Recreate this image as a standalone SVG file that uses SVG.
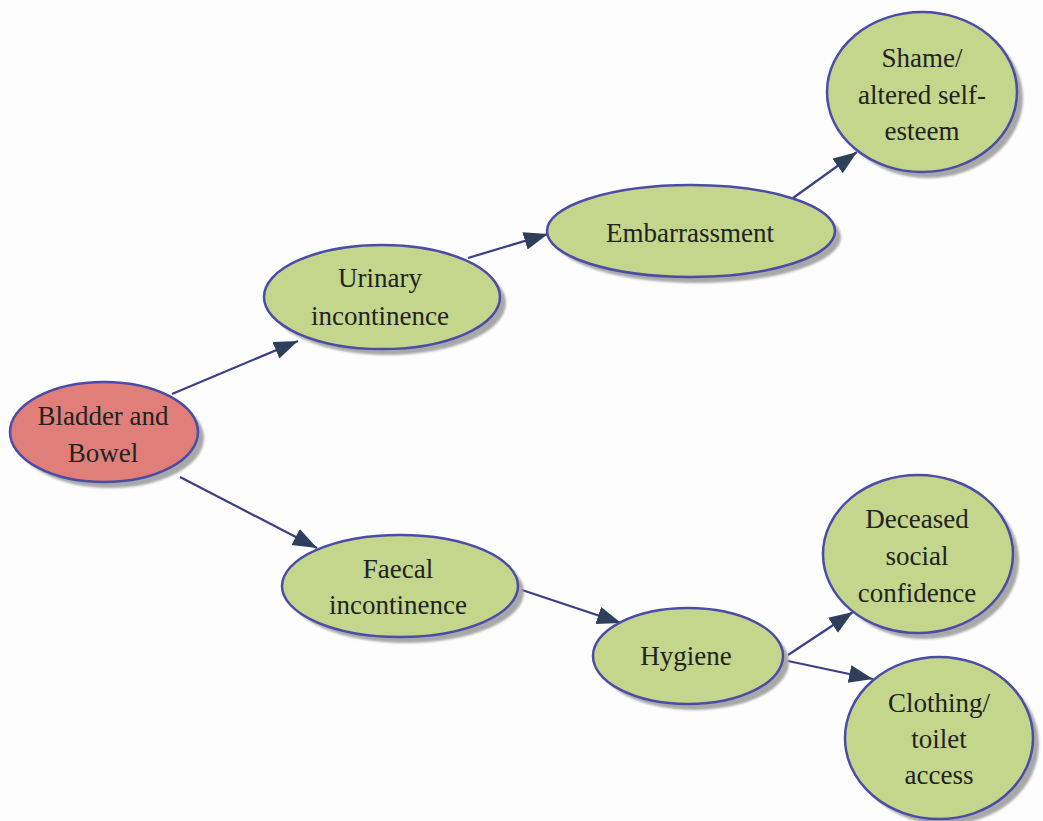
<svg xmlns="http://www.w3.org/2000/svg" width="1043" height="821" viewBox="0 0 1043 821">
  <style>
    .shadow { fill: #9a9a9a; opacity: 0.85; }
    .node { stroke: #4b4ca6; stroke-width: 2.5; }
    .green { fill: #c4d68c; }
    .red { fill: #e07f79; }
    .label { font-size: 27px; fill: #222222; text-anchor: middle; }
    .edge { stroke: #3c3f86; stroke-width: 2.2; fill: none; marker-end: url(#head); }
  </style>
  <defs>
    <marker id="head" markerUnits="userSpaceOnUse" markerWidth="26" markerHeight="20" refX="24" refY="9" orient="auto">
      <path d="M0,0 L24,9 L0,18 Z" fill="#2e3f5c"/>
    </marker>
    <filter id="soft" x="-10%" y="-10%" width="120%" height="120%">
      <feGaussianBlur stdDeviation="1.2"/>
    </filter>
  </defs>

  <rect width="1043" height="821" fill="#fdfdfd"/>

  <!-- connectors -->
  <g id="connectors">
    <line class="edge" x1="172" y1="394" x2="298" y2="341"/>
    <line class="edge" x1="180" y1="477" x2="317" y2="548"/>
    <line class="edge" x1="468" y1="258" x2="548" y2="234"/>
    <line class="edge" x1="793" y1="198" x2="857" y2="152"/>
    <line class="edge" x1="522" y1="590" x2="621" y2="623"/>
    <line class="edge" x1="788" y1="655" x2="853" y2="612"/>
    <line class="edge" x1="788" y1="661" x2="873" y2="679"/>
  </g>

  <!-- nodes -->
  <g font-family="'Liberation Serif', 'Times New Roman', serif">
  <g id="bladder-bowel">
    <ellipse class="shadow" filter="url(#soft)" cx="110" cy="438" rx="94" ry="50"/>
    <ellipse class="node red" cx="104" cy="432" rx="94" ry="50"/>
    <text class="label" x="103" y="425">Bladder and</text>
    <text class="label" x="103" y="462">Bowel</text>
  </g>

  <g id="urinary-incontinence">
    <ellipse class="shadow" filter="url(#soft)" cx="388" cy="303" rx="118" ry="52"/>
    <ellipse class="node green" cx="382" cy="297" rx="118" ry="52"/>
    <text class="label" x="380" y="287">Urinary</text>
    <text class="label" x="380" y="325">incontinence</text>
  </g>

  <g id="embarrassment">
    <ellipse class="shadow" filter="url(#soft)" cx="697" cy="237" rx="144" ry="46"/>
    <ellipse class="node green" cx="691" cy="231" rx="144" ry="46"/>
    <text class="label" x="690" y="242">Embarrassment</text>
  </g>

  <g id="shame">
    <ellipse class="shadow" filter="url(#soft)" cx="928" cy="98" rx="95" ry="80"/>
    <ellipse class="node green" cx="922" cy="92" rx="95" ry="80"/>
    <text class="label" x="922" y="67">Shame/</text>
    <text class="label" x="922" y="104">altered self-</text>
    <text class="label" x="922" y="140">esteem</text>
  </g>

  <g id="faecal-incontinence">
    <ellipse class="shadow" filter="url(#soft)" cx="406" cy="592" rx="118" ry="51"/>
    <ellipse class="node green" cx="400" cy="586" rx="118" ry="51"/>
    <text class="label" x="398" y="578">Faecal</text>
    <text class="label" x="398" y="614">incontinence</text>
  </g>

  <g id="hygiene">
    <ellipse class="shadow" filter="url(#soft)" cx="694" cy="662" rx="95" ry="48"/>
    <ellipse class="node green" cx="688" cy="656" rx="95" ry="48"/>
    <text class="label" x="686" y="665">Hygiene</text>
  </g>

  <g id="social-confidence">
    <ellipse class="shadow" filter="url(#soft)" cx="924" cy="560" rx="95" ry="79"/>
    <ellipse class="node green" cx="918" cy="554" rx="95" ry="79"/>
    <text class="label" x="917" y="528">Deceased</text>
    <text class="label" x="917" y="565">social</text>
    <text class="label" x="917" y="602">confidence</text>
  </g>

  <g id="clothing-toilet">
    <ellipse class="shadow" filter="url(#soft)" cx="945" cy="744" rx="94" ry="81"/>
    <ellipse class="node green" cx="939" cy="738" rx="94" ry="81"/>
    <text class="label" x="939" y="712">Clothing/</text>
    <text class="label" x="939" y="748">toilet</text>
    <text class="label" x="939" y="784">access</text>
  </g>
  </g>
</svg>
